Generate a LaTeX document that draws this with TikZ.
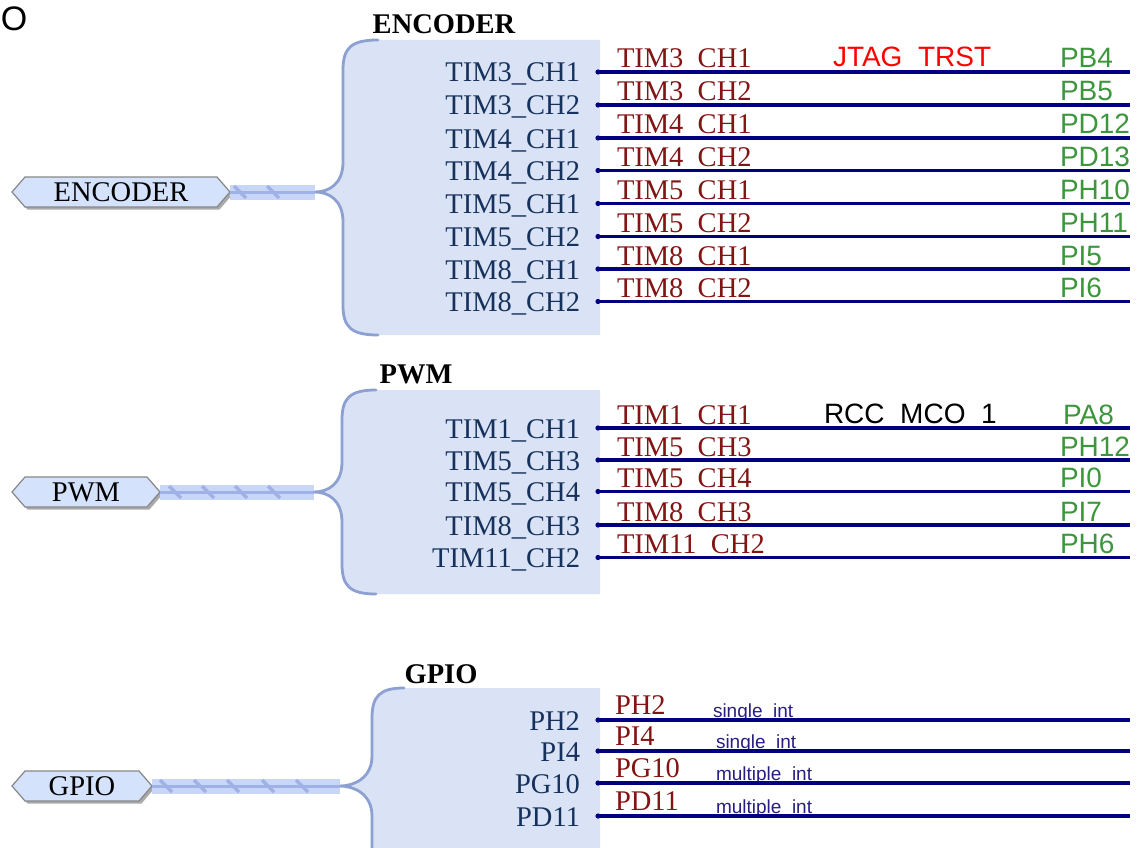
\documentclass[tikz,border=0pt]{standalone}
\usepackage{fontspec}
\setmainfont{Liberation Serif}
\newfontfamily\arialf{Liberation Sans}
\definecolor{blockfill}{RGB}{218,227,245}
\definecolor{bracecol}{RGB}{140,160,210}
\definecolor{busband}{RGB}{200,214,248}
\definecolor{buscore}{RGB}{160,177,230}
\definecolor{tagfill}{RGB}{212,226,252}
\definecolor{tagborder}{RGB}{135,135,135}
\definecolor{tagshadow}{RGB}{170,170,170}
\definecolor{pincol}{RGB}{22,50,92}
\definecolor{sigcol}{RGB}{130,20,20}
\definecolor{netcol}{RGB}{0,0,128}
\definecolor{portcol}{RGB}{60,150,60}
\definecolor{smallcol}{RGB}{40,30,130}
\newcommand\bigf{\fontsize{28.5}{32}\selectfont}
\newcommand\smallf{\fontsize{19}{22}\selectfont}
% underscore hidden behind the net line, as in the drawing
\newcommand\lus{\hphantom{\_}}
\newcommand\bracepath[6]{(#1,#2) .. controls (#5+8,#2) and (#5,#2+8) .. (#5,#2+30) -- (#5,#4-30) .. controls (#5,#4-8) and (#6+14,#4) .. (#6,#4) .. controls (#6+14,#4) and (#5,#4+8) .. (#5,#4+30) -- (#5,#3-30) .. controls (#5,#3-8) and (#5+8,#3) .. (#1,#3)}
\tikzset{
  txt/.style={inner sep=0pt, outer sep=0pt},
  pinlbl/.style={txt, anchor=base east, text=pincol, font=\bigf},
  siglbl/.style={txt, anchor=base west, text=sigcol, font=\bigf},
  portlbl/.style={txt, anchor=base west, text=portcol, font=\arialf\fontsize{28}{32}\selectfont},
  funclbl/.style={txt, anchor=base west, font=\arialf\fontsize{28}{32}\selectfont},
  smalllbl/.style={txt, anchor=base west, text=smallcol, font=\arialf\smallf},
  title/.style={txt, font=\bfseries\bigf},
  tagtxt/.style={txt, minimum height=30pt, font=\bigf},
  tagshape/.style={fill=tagfill, draw=tagborder, line width=1.2pt, line join=miter},
  brace/.style={draw=bracecol, line width=2.8pt, line cap=round},
  busline/.style={busband, line width=15pt},
  buscoreline/.style={buscore, line width=3pt},
  busslash/.style={buscore, line width=3.2pt},
  net/.style={netcol, line width=3.6pt},
  dotmark/.style={fill=netcol}
}
\newcommand\hextag[5]{% name, cx, cy, rect width, text
  \node[tagtxt, minimum width=#4pt] (#1) at (#2,#3) {#5};
  \fill[tagshadow] ([shift={(2.5,2.5)}]#1.north west) -- ([shift={(2.5,2.5)}]#1.north east) -- ++(13,15) -- ([shift={(2.5,2.5)}]#1.south east) -- ([shift={(2.5,2.5)}]#1.south west) -- ++(-13,-15) -- cycle;
  \filldraw[tagshape] (#1.north west) -- (#1.north east) -- ++(13,15) -- (#1.south east) -- (#1.south west) -- ++(-13,-15) -- cycle;
  \node[tagtxt, minimum width=#4pt] at (#1) {#5};
  \coordinate (#1R) at ([xshift=13pt]#1.east);
}
\begin{document}
\begin{tikzpicture}[x=1pt,y=-1pt]
\useasboundingbox (0,0) rectangle (1140,848);
\clip (0,0) rectangle (1140,848);

% corner letter
\node[txt, anchor=west, font=\arialf\fontsize{34}{36}\selectfont] (corner) at (1,19) {O};

% ---------------- block fills and braces
\fill[blockfill] \bracepath{378}{40}{335}{192}{343}{315} -- (600,335) -- (600,40) -- cycle;
\fill[blockfill] \bracepath{376}{390}{594}{492}{342}{314} -- (600,594) -- (600,390) -- cycle;
\fill[blockfill] \bracepath{404}{688}{884}{786}{372}{340} -- (600,884) -- (600,688) -- cycle;

\coordinate (encTip) at (315,192);
\coordinate (pwmTip) at (314,492);
\coordinate (gpioTip) at (340,786);

% ---------------- tags
\hextag{encTag}{121}{192}{192}{ENCODER}
\hextag{pwmTag}{86}{492}{122}{PWM}
\hextag{gpioTag}{82}{786}{114}{GPIO}

% ---------------- buses
\draw[busline] (encTagR) -- (encTip);
\draw[buscoreline] (encTagR) -- (encTip);
\foreach \x in {240,273} \draw[busslash] (\x-6,186) -- (\x+6,198);
\draw[busline] (pwmTagR) -- (pwmTip);
\draw[buscoreline] (pwmTagR) -- (pwmTip);
\foreach \x in {175,208,241,274} \draw[busslash] (\x-6,486) -- (\x+6,498);
\draw[busline] (gpioTagR) -- (gpioTip);
\draw[buscoreline] (gpioTagR) -- (gpioTip);
\foreach \x in {166,200,233,268,302} \draw[busslash] (\x-6,780) -- (\x+6,792);

\draw[brace] \bracepath{378}{40}{335}{192}{343}{315};
\draw[brace] \bracepath{376}{390}{594}{492}{342}{314};
\draw[brace] \bracepath{404}{688}{884}{786}{372}{340};

% ---------------- titles
\node[title] (encTitle) at (444,24) {ENCODER};
\node[title] (pwmTitle) at (416,374) {PWM};
\node[title] (gpioTitle) at (441,674) {GPIO};

% ---------------- ENCODER pins
\foreach \i/\y/\pa/\pb/\port in {1/72/TIM3/CH1/PB4, 2/105/TIM3/CH2/PB5, 3/138/TIM4/CH1/PD12, 4/170.5/TIM4/CH2/PD13, 5/203.5/TIM5/CH1/PH10, 6/236.5/TIM5/CH2/PH11, 7/269/TIM8/CH1/PI5, 8/301.5/TIM8/CH2/PI6} {
  \node[pinlbl] (encP\i) at (580,\y+10) {\pa\_\pb};
  \node[siglbl] (encS\i) at (617,\y-4) {\pa\lus\pb};
  \node[portlbl] (encG\i) at (1060,\y-4) {\port};
  \coordinate (encA\i) at (598,\y);
  \coordinate (encB\i) at (1130,\y);
}
\node[funclbl, text=red] (jtag) at (833,67) {JTAG\lus TRST};
\foreach \i in {1,...,8} {
  \draw[net] (encA\i) -- (encB\i);
  \fill[dotmark] (encA\i) circle (2.6);
}

% ---------------- PWM pins
\foreach \i/\y/\pa/\pb/\port/\px in {1/428/TIM1/CH1/PA8/1063, 2/460/TIM5/CH3/PH12/1060, 3/491.5/TIM5/CH4/PI0/1060, 4/525/TIM8/CH3/PI7/1060, 5/557.5/TIM11/CH2/PH6/1060} {
  \node[pinlbl] (pwmP\i) at (580,\y+10) {\pa\_\pb};
  \node[siglbl] (pwmS\i) at (617,\y-4) {\pa\lus\pb};
  \node[portlbl] (pwmG\i) at (\px,\y-4) {\port};
  \coordinate (pwmA\i) at (598,\y);
  \coordinate (pwmB\i) at (1130,\y);
}
\node[funclbl, text=black] (rcc) at (824,423) {RCC\lus MCO\lus 1};
\foreach \i in {1,...,5} {
  \draw[net] (pwmA\i) -- (pwmB\i);
  \fill[dotmark] (pwmA\i) circle (2.6);
}

% ---------------- GPIO pins
\foreach \i/\y/\pin/\note/\nx in {1/720/PH2/single\lus int/713, 2/751/PI4/single\lus int/716, 3/783/PG10/multiple\lus int/716, 4/816/PD11/multiple\_int/716} {
  \node[pinlbl] (gpioP\i) at (580,\y+10) {\pin};
  \node[siglbl] (gpioS\i) at (615,\y-6) {\pin};
  \node[smalllbl] (gpioN\i) at (\nx,\y-3) {\note};
  \coordinate (gpioA\i) at (598,\y);
  \coordinate (gpioB\i) at (1130,\y);
}
\foreach \i in {1,...,4} {
  \draw[net] (gpioA\i) -- (gpioB\i);
  \fill[dotmark] (gpioA\i) circle (2.6);
}
\end{tikzpicture}
\end{document}
